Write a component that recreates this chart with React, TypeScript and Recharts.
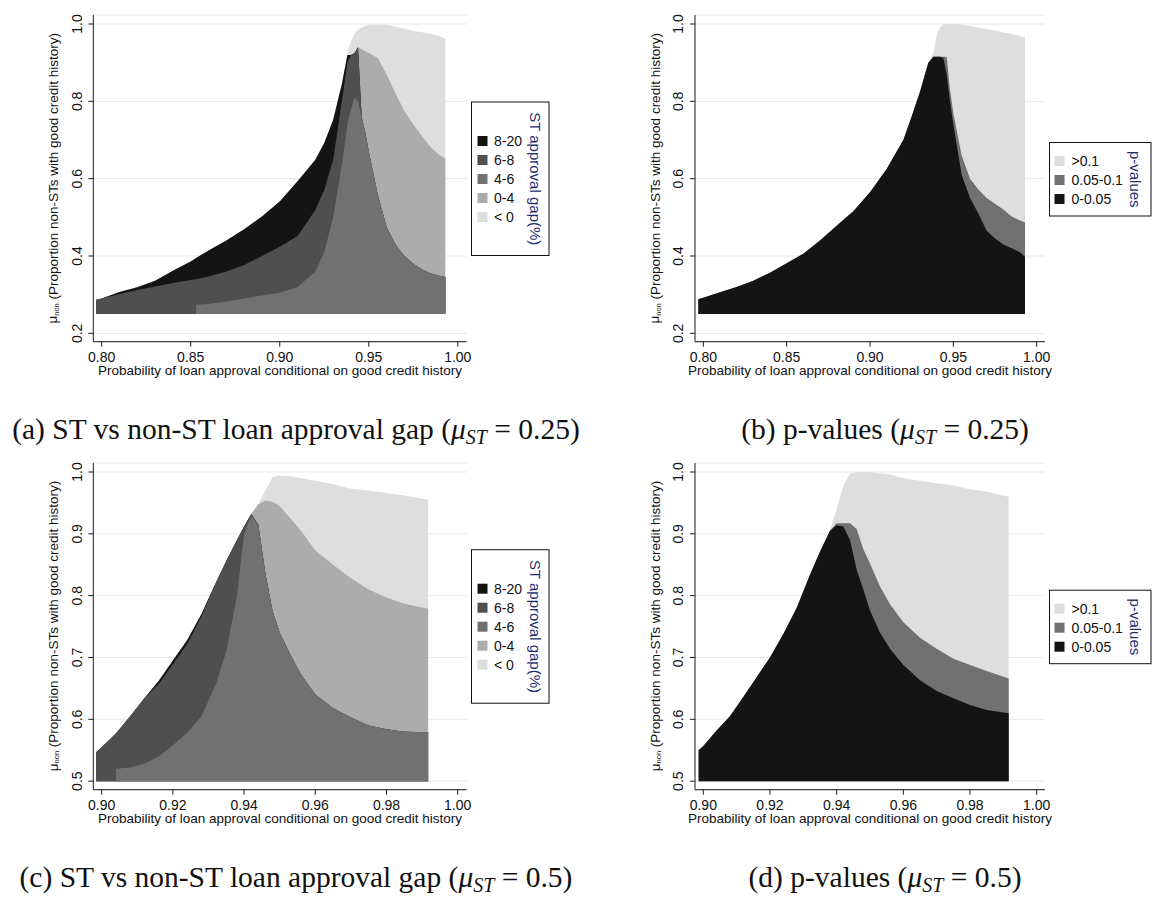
import React from "react";
import { ComposedChart, Area, XAxis, YAxis, CartesianGrid } from "recharts";

const SANS = "'Liberation Sans', Arial, Helvetica, sans-serif";
const SERIF = "'Liberation Serif', 'DejaVu Serif', serif";
const AXIS = "#1a1a1a";
const GRID = "#e2eaec";
const NAVY = "#1c2e6e";

// ---------- panel (a): approval gap, mu_ST = 0.25 ----------
const xsA = [0.797, 0.8, 0.81, 0.82, 0.83, 0.84, 0.85, 0.853, 0.853, 0.86, 0.87, 0.88, 0.89, 0.9, 0.91, 0.92, 0.925, 0.93, 0.935, 0.938, 0.94, 0.942, 0.944, 0.946, 0.948, 0.95, 0.955, 0.96, 0.965, 0.97, 0.975, 0.98, 0.985, 0.99, 0.993];
// upper edge of each band, bands stacked bottom-up: 4-6, 6-8, 8-20, 0-4, <0
const aTop4to6 = [0.25, 0.25, 0.25, 0.25, 0.25, 0.25, 0.25, 0.25, 0.274, 0.276, 0.282, 0.29, 0.298, 0.305, 0.32, 0.36, 0.41, 0.5, 0.64, 0.74, 0.78, 0.81, 0.8, 0.76, 0.72, 0.67, 0.56, 0.475, 0.43, 0.4, 0.38, 0.365, 0.355, 0.348, 0.346];
const aTop6to8 = [0.287, 0.29, 0.302, 0.312, 0.321, 0.33, 0.338, 0.34, 0.34, 0.347, 0.36, 0.377, 0.4, 0.424, 0.452, 0.519, 0.571, 0.649, 0.804, 0.9, 0.92, 0.925, 0.94, 0.76, 0.72, 0.67, 0.56, 0.475, 0.43, 0.4, 0.38, 0.365, 0.355, 0.348, 0.346];
const aTop8to20 = [0.287, 0.29, 0.307, 0.319, 0.336, 0.362, 0.386, 0.395, 0.395, 0.414, 0.44, 0.469, 0.502, 0.541, 0.593, 0.649, 0.692, 0.752, 0.847, 0.92, 0.92, 0.925, 0.94, 0.76, 0.72, 0.67, 0.56, 0.475, 0.43, 0.4, 0.38, 0.365, 0.355, 0.348, 0.346];
const aTop0to4 = [0.287, 0.29, 0.307, 0.319, 0.336, 0.362, 0.386, 0.395, 0.395, 0.414, 0.44, 0.469, 0.502, 0.541, 0.593, 0.649, 0.692, 0.752, 0.847, 0.92, 0.92, 0.925, 0.94, 0.935, 0.93, 0.925, 0.912, 0.87, 0.82, 0.775, 0.74, 0.71, 0.68, 0.66, 0.652];
const aTopNeg = [0.287, 0.29, 0.307, 0.319, 0.336, 0.362, 0.386, 0.395, 0.395, 0.414, 0.44, 0.469, 0.502, 0.541, 0.593, 0.649, 0.692, 0.752, 0.847, 0.925, 0.955, 0.975, 0.985, 0.99, 0.995, 0.998, 0.999, 0.998, 0.993, 0.988, 0.982, 0.979, 0.975, 0.968, 0.962];

// ---------- panel (b): p-values, mu_ST = 0.25 ----------
const xsB = [0.797, 0.8, 0.81, 0.82, 0.83, 0.84, 0.85, 0.86, 0.87, 0.88, 0.89, 0.9, 0.91, 0.92, 0.925, 0.93, 0.935, 0.938, 0.94, 0.942, 0.944, 0.946, 0.948, 0.95, 0.955, 0.96, 0.965, 0.97, 0.975, 0.98, 0.985, 0.99, 0.993];
// bands bottom-up: 0-0.05, 0.05-0.1, >0.1
const bTopSig = [0.288, 0.292, 0.306, 0.32, 0.336, 0.357, 0.381, 0.406, 0.44, 0.478, 0.516, 0.565, 0.625, 0.7, 0.761, 0.825, 0.9, 0.915, 0.915, 0.915, 0.913, 0.87, 0.8, 0.74, 0.61, 0.55, 0.51, 0.465, 0.445, 0.43, 0.42, 0.41, 0.398];
const bTopMid = [0.288, 0.292, 0.306, 0.32, 0.336, 0.357, 0.381, 0.406, 0.44, 0.478, 0.516, 0.565, 0.625, 0.7, 0.761, 0.825, 0.9, 0.915, 0.915, 0.915, 0.915, 0.915, 0.83, 0.77, 0.66, 0.6, 0.572, 0.55, 0.535, 0.52, 0.502, 0.492, 0.487];
const bTopAll = [0.288, 0.292, 0.306, 0.32, 0.336, 0.357, 0.381, 0.406, 0.44, 0.478, 0.516, 0.565, 0.625, 0.7, 0.761, 0.825, 0.9, 0.925, 0.97, 0.99, 1.0, 1.0, 1.0, 1.0, 0.999, 0.995, 0.99, 0.987, 0.983, 0.978, 0.974, 0.969, 0.966];

// ---------- panel (c): approval gap, mu_ST = 0.5 ----------
const xsC = [0.8985, 0.9, 0.904, 0.904, 0.908, 0.912, 0.916, 0.92, 0.924, 0.928, 0.932, 0.935, 0.938, 0.94, 0.942, 0.944, 0.946, 0.948, 0.95, 0.953, 0.956, 0.96, 0.965, 0.97, 0.975, 0.98, 0.985, 0.9917];
const cTop4to6 = [0.5, 0.5, 0.5, 0.52, 0.522, 0.528, 0.54, 0.558, 0.578, 0.605, 0.655, 0.71, 0.8, 0.9, 0.93, 0.915, 0.835, 0.775, 0.74, 0.705, 0.672, 0.64, 0.618, 0.603, 0.59, 0.584, 0.58, 0.579];
const cTop6to8 = [0.547, 0.555, 0.577, 0.577, 0.605, 0.634, 0.657, 0.689, 0.722, 0.766, 0.82, 0.856, 0.89, 0.912, 0.93, 0.915, 0.835, 0.775, 0.74, 0.705, 0.672, 0.64, 0.618, 0.603, 0.59, 0.584, 0.58, 0.579];
const cTop8to20 = [0.547, 0.555, 0.577, 0.577, 0.605, 0.634, 0.662, 0.695, 0.728, 0.77, 0.82, 0.856, 0.89, 0.912, 0.932, 0.915, 0.835, 0.775, 0.74, 0.705, 0.672, 0.64, 0.618, 0.603, 0.59, 0.584, 0.58, 0.579];
const cTop0to4 = [0.547, 0.555, 0.577, 0.577, 0.605, 0.634, 0.662, 0.695, 0.728, 0.77, 0.82, 0.856, 0.89, 0.912, 0.932, 0.948, 0.954, 0.952, 0.945, 0.925, 0.905, 0.873, 0.85, 0.828, 0.81, 0.797, 0.787, 0.779];
const cTopNeg = [0.547, 0.555, 0.577, 0.577, 0.605, 0.634, 0.662, 0.695, 0.728, 0.77, 0.82, 0.856, 0.89, 0.912, 0.932, 0.948, 0.97, 0.992, 0.994, 0.993, 0.99, 0.986, 0.98, 0.973, 0.97, 0.966, 0.962, 0.955];

// ---------- panel (d): p-values, mu_ST = 0.5 ----------
const xsD = [0.8986, 0.9, 0.904, 0.908, 0.912, 0.916, 0.92, 0.924, 0.928, 0.932, 0.935, 0.938, 0.94, 0.942, 0.944, 0.946, 0.948, 0.95, 0.953, 0.956, 0.96, 0.965, 0.97, 0.975, 0.98, 0.985, 0.9916];
const dTopSig = [0.55, 0.557, 0.582, 0.605, 0.636, 0.668, 0.7, 0.738, 0.78, 0.834, 0.871, 0.905, 0.914, 0.912, 0.89, 0.842, 0.81, 0.776, 0.74, 0.714, 0.688, 0.663, 0.646, 0.634, 0.623, 0.615, 0.61];
const dTopMid = [0.55, 0.557, 0.582, 0.605, 0.636, 0.668, 0.7, 0.738, 0.78, 0.834, 0.871, 0.905, 0.917, 0.917, 0.917, 0.908, 0.875, 0.852, 0.815, 0.786, 0.757, 0.732, 0.714, 0.698, 0.688, 0.678, 0.666];
const dTopAll = [0.55, 0.557, 0.582, 0.605, 0.636, 0.668, 0.7, 0.738, 0.78, 0.834, 0.871, 0.905, 0.94, 0.978, 0.997, 1.0, 1.0, 1.0, 0.998, 0.996, 0.99, 0.986, 0.982, 0.978, 0.972, 0.968, 0.96];

// legend categories and fills
const gapLabels = ["8-20", "6-8", "4-6", "0-4", "< 0"];
const gapFills = ["#141414", "#4f4f4f", "#717171", "#acacac", "#dedede"];
const pLabels = [">0.1", "0.05-0.1", "0-0.05"];
const pFills = ["#dedede", "#717171", "#141414"];

const ticksX1 = [0.8, 0.85, 0.9, 0.95, 1.0];
const ticksY1 = [0.2, 0.4, 0.6, 0.8, 1.0];
const ticksX2 = [0.9, 0.92, 0.94, 0.96, 0.98, 1.0];
const ticksY2 = [0.5, 0.6, 0.7, 0.8, 0.9, 1.0];

const ROW2 = 447.7;

const YTick = (props: any) => {
  const { x, y, payload } = props;
  const cx = x - 11.6;
  return (
    <text
      x={cx}
      y={y}
      transform={`rotate(-90 ${cx} ${y})`}
      textAnchor="middle"
      dominantBaseline="central"
      fontSize={14}
      fontFamily={SANS}
      fill="#111"
    >
      {Number(payload.value).toFixed(1)}
    </text>
  );
};

interface PanelProps {
  left: number;
  top: number;
  yAxisW: number;
  plotW: number;
  xs: number[];
  tops: number[][];
  fills: string[];
  base: number;
  xDomain: [number, number];
  yDomain: [number, number];
  xTicks: number[];
  yTicks: number[];
}

const Panel: React.FC<PanelProps> = ({ left, top, yAxisW, plotW, xs, tops, fills, base, xDomain, yDomain, xTicks, yTicks }) => {
  const rows = xs.map((x, i) => {
    const r: any = { x };
    tops.forEach((t, k) => {
      r["b" + k] = [base, t[i]];
    });
    return r;
  });
  // paint the tallest band first, lower bands on top
  const order = tops.map((_, k) => tops.length - 1 - k);
  return (
    <div style={{ position: "absolute", left, top }}>
      <ComposedChart width={yAxisW + plotW + 10} height={390} data={rows} margin={{ top: 15, right: 10, bottom: 0, left: 0 }}>
        <CartesianGrid horizontal vertical={false} stroke={GRID} />
        <XAxis
          type="number"
          dataKey="x"
          domain={xDomain}
          ticks={xTicks}
          interval={0}
          allowDataOverflow
          height={48.3}
          tickSize={5}
          tickMargin={5}
          stroke={AXIS}
          tick={{ fontSize: 14, fill: "#111", fontFamily: SANS }}
          tickFormatter={(v: number) => v.toFixed(2)}
        />
        <YAxis
          type="number"
          domain={yDomain}
          ticks={yTicks}
          interval={0}
          allowDataOverflow
          width={yAxisW}
          tickSize={5}
          tickMargin={0}
          stroke={AXIS}
          tick={YTick}
        />
        {order.map((k) => (
          <Area
            key={k}
            type="linear"
            dataKey={"b" + k}
            fill={fills[k]}
            fillOpacity={1}
            stroke="none"
            dot={false}
            activeDot={false}
            isAnimationActive={false}
          />
        ))}
      </ComposedChart>
    </div>
  );
};

const YTitle = ({ x, y }: { x: number; y: number }) => (
  <text x={x} y={y} transform={`rotate(-90 ${x} ${y})`} textAnchor="middle" dominantBaseline="central" fontSize={13.5} fontFamily={SANS} fill="#111">
    μ<tspan fontSize={7.5} dy={3}>non</tspan>
    <tspan dy={-3}> (Proportion non-STs with good credit history)</tspan>
  </text>
);

const XTitle = ({ x, y }: { x: number; y: number }) => (
  <text x={x} y={y} textAnchor="middle" dominantBaseline="central" fontSize={13.5} fontFamily={SANS} fill="#111">
    Probability of loan approval conditional on good credit history
  </text>
);

const LegendBox = ({ x, y, w, h, labels, fills, firstRow, swatchX, textX, titleX, title }: any) => (
  <g>
    <rect x={x} y={y} width={w} height={h} fill="#fff" stroke="#111" strokeWidth={1} />
    {labels.map((lab: string, i: number) => {
      const cy = y + firstRow + i * 19;
      return (
        <g key={lab}>
          <rect x={x + swatchX} y={cy - 5} width={10} height={10} fill={fills[i]} />
          <text x={x + textX} y={cy} dominantBaseline="central" fontSize={14} fontFamily={SANS} fill="#111">
            {lab}
          </text>
        </g>
      );
    })}
    <text
      x={x + titleX}
      y={y + h / 2}
      transform={`rotate(90 ${x + titleX} ${y + h / 2})`}
      textAnchor="middle"
      dominantBaseline="central"
      fontSize={15}
      fontFamily={SANS}
      fill={NAVY}
    >
      {title}
    </text>
  </g>
);

const Caption = ({ x, y, tag, body, mu }: { x: number; y: number; tag: string; body: string; mu: string }) => (
  <text x={x} y={y} textAnchor="middle" fontSize={29.5} fontFamily={SERIF} fill="#111">
    {`(${tag}) ${body} (`}
    <tspan fontStyle="italic">μ</tspan>
    <tspan fontStyle="italic" fontSize={20} dy={5}>ST</tspan>
    <tspan dy={-5}>{` = ${mu})`}</tspan>
  </text>
);

export default function App() {
  const dom1Y: [number, number] = [0.17836, 1.02328];
  const dom2Y: [number, number] = [0.48618, 1.01456];
  return (
    <div style={{ position: "absolute", left: 0, top: 0, width: 1157, height: 897, background: "#fff", overflow: "hidden" }}>
      <Panel left={0} top={0} yAxisW={93.3} plotW={373.4} xs={xsA} tops={[aTop4to6, aTop6to8, aTop8to20, aTop0to4, aTopNeg]} fills={["#717171", "#4f4f4f", "#141414", "#acacac", "#dedede"]} base={0.25} xDomain={[0.79528, 1.005]} yDomain={dom1Y} xTicks={ticksX1} yTicks={ticksY1} />
      <Panel left={600} top={0} yAxisW={95} plotW={350} xs={xsB} tops={[bTopSig, bTopMid, bTopAll]} fills={["#141414", "#717171", "#dedede"]} base={0.25} xDomain={[0.795, 1.005]} yDomain={dom1Y} xTicks={ticksX1} yTicks={ticksY1} />
      <Panel left={0} top={ROW2} yAxisW={93.3} plotW={373.4} xs={xsC} tops={[cTop4to6, cTop6to8, cTop8to20, cTop0to4, cTopNeg]} fills={["#717171", "#4f4f4f", "#141414", "#acacac", "#dedede"]} base={0.5} xDomain={[0.89764, 1.00253]} yDomain={dom2Y} xTicks={ticksX2} yTicks={ticksY2} />
      <Panel left={600} top={ROW2} yAxisW={95} plotW={350} xs={xsD} tops={[dTopSig, dTopMid, dTopAll]} fills={["#141414", "#717171", "#dedede"]} base={0.5} xDomain={[0.89751, 1.00249]} yDomain={dom2Y} xTicks={ticksX2} yTicks={ticksY2} />

      <svg width={1157} height={897} style={{ position: "absolute", left: 0, top: 0, pointerEvents: "none" }}>
        <YTitle x={53} y={178.3} />
        <YTitle x={655} y={178.3} />
        <YTitle x={53} y={178.3 + ROW2} />
        <YTitle x={655} y={178.3 + ROW2} />
        <XTitle x={280} y={370.7} />
        <XTitle x={870} y={370.7} />
        <XTitle x={280} y={370.7 + ROW2} />
        <XTitle x={870} y={370.7 + ROW2} />

        <LegendBox x={471.5} y={102} w={77.5} h={153.5} labels={gapLabels} fills={gapFills} firstRow={39} swatchX={6} textX={22.5} titleX={63.5} title="ST approval gap(%)" />
        <LegendBox x={1049.5} y={142.5} w={101.5} h={73.5} labels={pLabels} fills={pFills} firstRow={18.5} swatchX={5} textX={22} titleX={85.5} title="p-values" />
        <LegendBox x={471.5} y={102 + ROW2} w={77.5} h={153.5} labels={gapLabels} fills={gapFills} firstRow={39} swatchX={6} textX={22.5} titleX={63.5} title="ST approval gap(%)" />
        <LegendBox x={1049.5} y={142.5 + ROW2} w={101.5} h={73.5} labels={pLabels} fills={pFills} firstRow={18.5} swatchX={5} textX={22} titleX={85.5} title="p-values" />

        <Caption x={296} y={439} tag="a" body="ST vs non-ST loan approval gap" mu="0.25" />
        <Caption x={885} y={439} tag="b" body="p-values" mu="0.25" />
        <Caption x={296} y={886.7} tag="c" body="ST vs non-ST loan approval gap" mu="0.5" />
        <Caption x={885} y={886.7} tag="d" body="p-values" mu="0.5" />
      </svg>
    </div>
  );
}
